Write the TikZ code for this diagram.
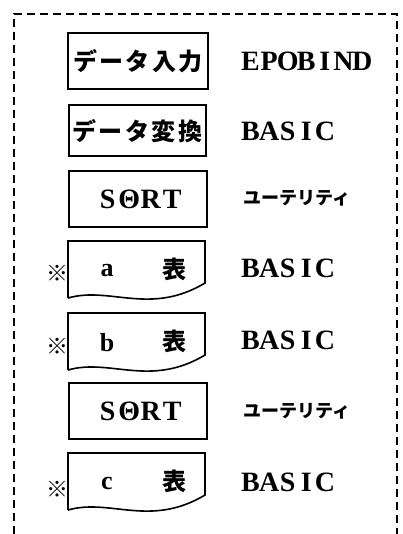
\documentclass[tikz,border=0pt]{standalone}
\usepackage{fontspec}
\setmainfont{Liberation Serif}
\newfontfamily\jp{Noto Sans CJK JP}
\newcommand\cells[2]{\def\cellw{#1}\cellloop#2\relax}
\def\cellloop#1{\ifx#1\relax\else\makebox[\cellw]{#1}\expandafter\cellloop\fi}
\begin{document}
\begin{tikzpicture}[x=1pt,y=-1pt,
  proc/.style={draw,line width=1.6pt,inner sep=0pt},
  doc/.style={draw,line width=1.6pt},
  jpbox/.style={font=\jp\bfseries\fontsize{24}{24}\selectfont,inner sep=0pt},
  sortt/.style={font=\bfseries\fontsize{28}{28}\selectfont,inner sep=0pt},
  lbl/.style={anchor=west,inner sep=0pt,font=\bfseries\fontsize{28}{28}\selectfont},
  jplbl/.style={anchor=west,inner sep=0pt,font=\jp\bfseries\fontsize{18}{18}\selectfont},
  refmark/.style={inner sep=0pt,font=\jp\bfseries\fontsize{22}{22}\selectfont},
  small/.style={inner sep=0pt,font=\bfseries\fontsize{26}{26}\selectfont},
  kan/.style={inner sep=0pt,font=\jp\bfseries\fontsize{24}{24}\selectfont},
  frame/.style={line width=2pt,dash pattern=on 8pt off 5pt}]
\useasboundingbox (0,0) rectangle (403,534);
% frame
\coordinate (fbl) at (14,534);
\coordinate (ftl) at (14,14);
\coordinate (ftr) at (397,14);
\coordinate (fbr) at (397,534);
\draw[frame] (fbl) -- (ftl) -- (ftr) -- (fbr);
% process boxes
\node[proc,minimum width=140pt,minimum height=56pt] (b1) at (138,61) {};
\node[jpbox] (t1) at (138,61) {\cells{26.5pt}{データ入力}};
\node[proc,minimum width=137pt,minimum height=51pt] (b2) at (137.5,130.5) {};
\node[jpbox] (t2) at (137.5,131) {\cells{26.5pt}{データ変換}};
\node[proc,minimum width=138pt,minimum height=56pt] (b3) at (138,199) {};
\node[sortt] (t3) at (140,199) {\cells{21.5pt}{SΘRT}};
\node[proc,minimum width=138pt,minimum height=56pt] (b6) at (138,411) {};
\node[sortt] (t6) at (140,411) {\cells{21.5pt}{SΘRT}};
% document boxes
\foreach \t/\n in {241/a,313/b,453/c}{
  \draw[doc] (68,\t+57) -- (68,\t) -- (205,\t) -- (205,\t+42)
     .. controls (150,\t+75) and (110,\t+45) .. (68,\t+57);
}
\node[small] (la) at (107,271) {a};
\node[kan] (ka) at (174,269) {表};
\node[small] (lb) at (107,343) {b};
\node[kan] (kb) at (174,341) {表};
\node[small] (lc) at (107,483) {c};
\node[kan] (kc) at (174,481) {表};
\node[refmark] (ma) at (57,273) {※};
\node[refmark] (mb) at (57,346) {※};
\node[refmark] (mc) at (57,489) {※};
% right labels
\node[lbl] (r1) at (241,61) {\cells{18.6pt}{EPOBIND}};
\node[lbl] (r2) at (241,131) {\cells{18.6pt}{BASIC}};
\node[jplbl] (r3) at (243,198) {ユーテリティ};
\node[lbl] (r4) at (241,268) {\cells{18.6pt}{BASIC}};
\node[lbl] (r5) at (241,340) {\cells{18.6pt}{BASIC}};
\node[jplbl] (r6) at (243,411) {ユーテリティ};
\node[lbl] (r7) at (241,482) {\cells{18.6pt}{BASIC}};
\end{tikzpicture}
\end{document}
